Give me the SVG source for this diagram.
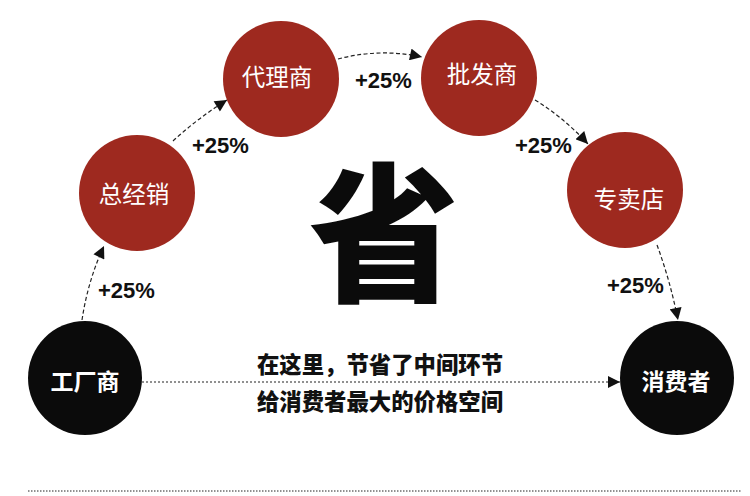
<svg xmlns="http://www.w3.org/2000/svg" width="750" height="496" viewBox="0 0 750 496">
<defs>
<marker id="ah" viewBox="0 0 10 10" refX="10" refY="5" markerWidth="13" markerHeight="12" markerUnits="userSpaceOnUse" orient="auto">
<path d="M0,0 L10,5 L0,10 z" fill="#111"/>
</marker>
<style>
.red{fill:#9E291F}
.blk{fill:#0b0b0b}
.lbl{font-family:"Noto Sans CJK SC","Noto Sans",sans-serif;font-size:23.5px;fill:#fff;text-anchor:middle}
.lblb{font-family:"Noto Sans CJK SC","Noto Sans",sans-serif;font-size:23px;font-weight:700;fill:#fff;text-anchor:middle}
.pct{font-family:"Liberation Sans",Arial,sans-serif;font-size:22px;font-weight:700;fill:#111}
.mid{font-family:"Noto Sans CJK SC","Noto Sans",sans-serif;font-size:23px;font-weight:900;fill:#111}
.dash{fill:none;stroke:#222;stroke-width:1.2;stroke-dasharray:4 2.5}
.dot{fill:none;stroke:#222;stroke-width:1.2;stroke-dasharray:2 2}
</style>
</defs>
<rect width="750" height="496" fill="#fff"/>
<g id="connectors">
<path class="dash" d="M82,320 Q88,280 104,246" marker-end="url(#ah)"/>
<path class="dash" d="M173,141 Q198,118 227,100" marker-end="url(#ah)"/>
<path class="dash" d="M338,59 Q380,48 422,57" marker-end="url(#ah)"/>
<path class="dash" d="M535,100 Q563,117 588,144" marker-end="url(#ah)"/>
<path class="dash" d="M657,245 Q670,280 678,320" marker-end="url(#ah)"/>
<path class="dot" d="M142,382 L620,382" marker-end="url(#ah)"/>
</g>
<g id="labels">
<text class="pct" x="98" y="298">+25%</text>
<text class="pct" x="192" y="153">+25%</text>
<text class="pct" x="355" y="88">+25%</text>
<text class="pct" x="515" y="153">+25%</text>
<text class="pct" x="607" y="293">+25%</text>
</g>
<g id="n-factory"><circle class="blk" cx="85" cy="378" r="57"/><text class="lblb" x="85" y="390">工厂商</text></g>
<g id="n-distributor"><circle class="red" cx="137" cy="193" r="58"/><text class="lbl" x="134" y="203">总经销</text></g>
<g id="n-agent"><circle class="red" cx="281" cy="79" r="58"/><text class="lbl" x="277" y="86">代理商</text></g>
<g id="n-wholesaler"><circle class="red" cx="479" cy="78" r="58"/><text class="lbl" x="482" y="83">批发商</text></g>
<g id="n-store"><circle class="red" cx="625" cy="190" r="58"/><text class="lbl" x="629" y="208">专卖店</text></g>
<g id="n-consumer"><circle class="blk" cx="677" cy="378" r="57"/><text class="lblb" x="676" y="390">消费者</text></g>
<text x="384" y="290" font-family="'Noto Sans CJK SC',sans-serif" font-weight="900" font-size="150" fill="#0b0b0b" text-anchor="middle">省</text>
<text class="mid" x="257" y="373" textLength="246" lengthAdjust="spacingAndGlyphs">在这里，节省了中间环节</text>
<text class="mid" x="257" y="410" textLength="246" lengthAdjust="spacingAndGlyphs">给消费者最大的价格空间</text>
<line x1="28" y1="491" x2="742" y2="491" stroke="#222" stroke-width="1" stroke-dasharray="1.5 1.5"/>
</svg>
